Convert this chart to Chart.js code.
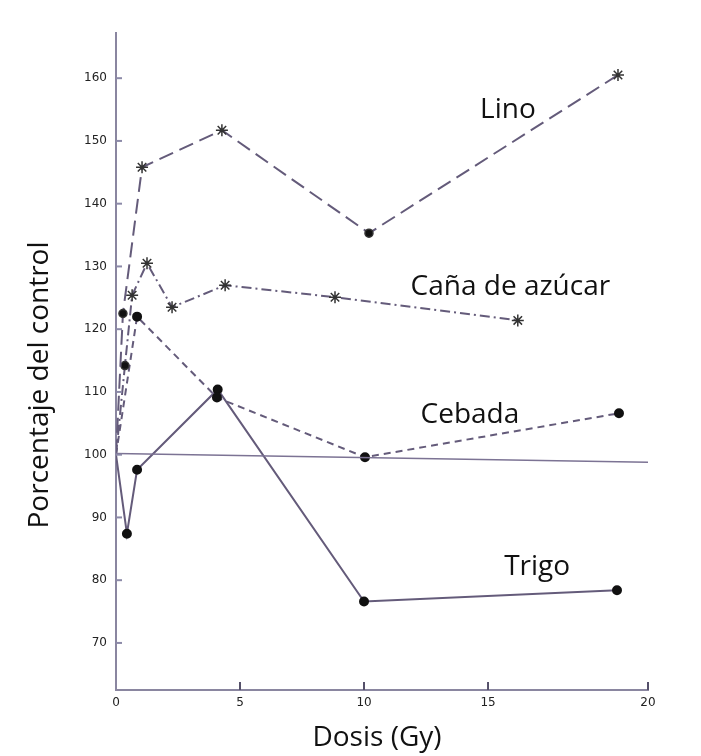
<!DOCTYPE html>
<html>
<head>
<meta charset="utf-8">
<script src="https://cdn.jsdelivr.net/npm/chart.js@4.4.0/dist/chart.umd.min.js"></script>
<style>
  body { margin: 0; background: #fff; }
  canvas { display: block; }
</style>
</head>
<body>
<canvas id="myChart" width="701" height="756"></canvas>
<script>
// Dose values (Gy) and % of control
const linoX = [0, 0.28, 1.05, 4.27, 10.2, 20.24];
const linoY = [100, 122.5, 145.8, 151.7, 135.3, 160.5];
const linoStyle = ["circle", "circle", "star", "star", "circle", "star"];

const canaX = [0, 0.36, 0.65, 1.25, 2.26, 4.4, 8.83, 16.2];
const canaY = [100, 114.2, 125.4, 130.5, 123.5, 127.0, 125.1, 121.4];
const canaStyle = ["circle", "circle", "star", "star", "star", "star", "star", "star"];

const cebadaX = [0, 0.85, 4.07, 10.04, 20.28];
const cebadaY = [100, 122.0, 109.1, 99.6, 106.6];

const trigoX = [0, 0.44, 0.85, 4.1, 10.0, 20.2];
const trigoY = [100, 87.4, 97.6, 110.4, 76.6, 78.4];

const controlX = [0, 21.5];
const controlY = [100.2, 98.8];

// axis ticks (the "20" tick sits at the end of the drawn axis)
const xTickValues = [0, 5, 10, 15, 21.45];
const xTickLabels = ["0", "5", "10", "15", "20"];
const yTickValues = [70, 80, 90, 100, 110, 120, 130, 140, 150, 160];

// in-plot labels: name and anchor in data units
const seriesNames = ["Lino", "Caña de azúcar", "Cebada", "Trigo"];
const nameX = [15.8, 15.9, 14.27, 16.98];
const nameY = [153.6, 125.5, 105.0, 80.9];

const lineColor = "#645b7a";

const toPoints = (xs, ys) => xs.map((x, i) => ({ x: x, y: ys[i] }));
// first point of every curve is the (0, 100) origin, drawn without marker
const radii = (styles) => styles.map((s, i) => (i === 0 ? 0 : s === "star" ? 6 : 4));

const ctx = document.getElementById("myChart");

// draws axis titles, inward tick marks and the curve names
const textPlugin = {
  id: "textPlugin",
  afterDraw: (chart) => {
    const c = chart.ctx;
    const xs = chart.scales.x;
    const ys = chart.scales.y;
    const area = chart.chartArea;
    c.save();

    // tick marks inside the axes
    c.lineWidth = 2;
    c.strokeStyle = "#8c8aa8";
    yTickValues.forEach((v) => {
      const py = ys.getPixelForValue(v);
      c.beginPath();
      c.moveTo(area.left, py);
      c.lineTo(area.left + 6, py);
      c.stroke();
    });
    c.strokeStyle = "#55506a";
    xTickValues.slice(1).forEach((v) => {
      const px = xs.getPixelForValue(v);
      c.beginPath();
      c.moveTo(px, area.bottom);
      c.lineTo(px, area.bottom - 8);
      c.stroke();
    });

    c.fillStyle = "#111";
    c.font = '28px "Open Sans"';
    c.textAlign = "center";
    c.textBaseline = "alphabetic";
    seriesNames.forEach((name, i) => {
      c.fillText(name, xs.getPixelForValue(nameX[i]), ys.getPixelForValue(nameY[i]));
    });

    // axis titles
    c.textBaseline = "middle";
    c.fillText("Dosis (Gy)", 377, 738);
    c.translate(40, 385);
    c.rotate(-Math.PI / 2);
    c.fillText("Porcentaje del control", 0, 0);
    c.restore();
  },
};

const chart = new Chart(ctx, {
  type: "scatter",
  data: {
    datasets: [
      {
        label: "Control",
        data: toPoints(controlX, controlY),
        showLine: true,
        borderColor: "#7c7394",
        borderWidth: 1.5,
        pointRadius: 0,
      },
      {
        label: "Lino",
        data: toPoints(linoX, linoY),
        showLine: true,
        borderColor: lineColor,
        borderWidth: 2,
        borderDash: [15, 7],
        pointStyle: linoStyle,
        pointRadius: radii(linoStyle),
        pointBackgroundColor: "#111",
        pointBorderColor: "#333",
        pointBorderWidth: 1.5,
      },
      {
        label: "Caña de azúcar",
        data: toPoints(canaX, canaY),
        showLine: true,
        borderColor: lineColor,
        borderWidth: 2,
        borderDash: [10, 4, 2, 4],
        pointStyle: canaStyle,
        pointRadius: radii(canaStyle),
        pointBackgroundColor: "#111",
        pointBorderColor: "#333",
        pointBorderWidth: 1.5,
      },
      {
        label: "Cebada",
        data: toPoints(cebadaX, cebadaY),
        showLine: true,
        borderColor: lineColor,
        borderWidth: 2,
        borderDash: [7, 5],
        pointStyle: "circle",
        pointRadius: cebadaX.map((x, i) => (i === 0 ? 0 : 4)),
        pointBackgroundColor: "#111",
        pointBorderColor: "#111",
      },
      {
        label: "Trigo",
        data: toPoints(trigoX, trigoY),
        showLine: true,
        borderColor: lineColor,
        borderWidth: 2,
        pointStyle: "circle",
        pointRadius: trigoX.map((x, i) => (i === 0 ? 0 : 4)),
        pointBackgroundColor: "#111",
        pointBorderColor: "#111",
      },
    ],
  },
  options: {
    responsive: false,
    animation: false,
    devicePixelRatio: 1,
    layout: { padding: { top: 33, right: 53, left: 0, bottom: 0 } },
    plugins: {
      legend: { display: false },
      tooltip: { enabled: false },
    },
    elements: { line: { tension: 0 } },
    scales: {
      x: {
        type: "linear",
        min: 0,
        max: 21.45,
        afterBuildTicks: (scale) => {
          scale.ticks = xTickValues.map((v) => ({ value: v }));
        },
        afterFit: (scale) => {
          scale.height = 66;
        },
        ticks: {
          callback: (value, index) => xTickLabels[index],
          font: { family: "DejaVu Sans", size: 12 },
          color: "#222",
          padding: 6,
          maxRotation: 0,
          autoSkip: false,
        },
        grid: { drawOnChartArea: false, drawTicks: false },
        border: { color: "#8a86a0", width: 2 },
      },
      y: {
        type: "linear",
        min: 62.5,
        max: 167.2,
        afterBuildTicks: (scale) => {
          scale.ticks = yTickValues.map((v) => ({ value: v }));
        },
        afterFit: (scale) => {
          scale.width = 116;
        },
        ticks: {
          font: { family: "DejaVu Sans", size: 12 },
          color: "#222",
          padding: 9,
        },
        grid: { drawOnChartArea: false, drawTicks: false },
        border: { color: "#8a86a0", width: 2 },
      },
    },
  },
  plugins: [textPlugin],
});
</script>
</body>
</html>
